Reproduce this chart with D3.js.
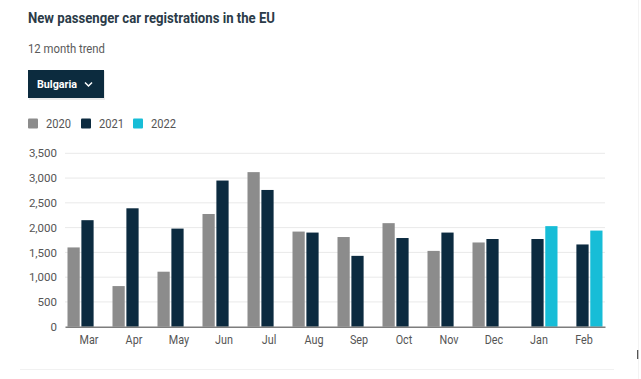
<!DOCTYPE html>
<html><head><meta charset="utf-8">
<script src="https://cdn.jsdelivr.net/npm/d3@7"></script>
<style>
html,body{margin:0;padding:0;background:#fff;}
svg{display:block;font-family:Roboto, "Noto Sans", sans-serif;}
</style></head>
<body>
<svg id="chart" width="641" height="379"></svg>
<script>
const months = ["Mar","Apr","May","Jun","Jul","Aug","Sep","Oct","Nov","Dec","Jan","Feb"];
const seriesNames = ["2020","2021","2022"];
const v2020 = [1600, 820, 1110, 2275, 3120, 1920, 1810, 2090, 1530, 1700, null, null];
const v2021 = [2150, 2390, 1980, 2950, 2760, 1900, 1430, 1790, 1900, 1770, 1770, 1660];
const v2022 = [null, null, null, null, null, null, null, null, null, null, 2030, 1940];
const yTicks = [0, 500, 1000, 1500, 2000, 2500, 3000, 3500];
const colors = {"2020":"#8c8c8c","2021":"#0c2b40","2022":"#17bdd7"};

const svg = d3.select("#chart");

// faint card edges
svg.append("line").attr("x1",20).attr("x2",614).attr("y1",369.5).attr("y2",369.5).attr("stroke","#f1f1f1");
svg.append("line").attr("x1",638.5).attr("x2",638.5).attr("y1",0).attr("y2",379).attr("stroke","#f3f3f3");
svg.append("rect").attr("x",637).attr("y",350).attr("width",1.3).attr("height",9).attr("fill","#555");

// title etc
svg.append("text").attr("x",28).attr("y",23).attr("font-size",14.5).attr("font-weight",700)
  .attr("fill","#2b3b48").attr("textLength",247).attr("lengthAdjust","spacingAndGlyphs")
  .text("New passenger car registrations in the EU");
svg.append("text").attr("x",28).attr("y",53).attr("font-size",12).attr("fill","#5a5a5a")
  .attr("textLength",77).attr("lengthAdjust","spacingAndGlyphs").text("12 month trend");

// dropdown button
svg.append("rect").attr("x",29).attr("y",71).attr("width",76).attr("height",29).attr("fill","#000").attr("opacity",0.08);
svg.append("rect").attr("x",28).attr("y",70).attr("width",76).attr("height",28).attr("fill","#0c2b3e");
svg.append("text").attr("x",37).attr("y",88).attr("font-size",11).attr("font-weight",700).attr("fill","#fff")
  .attr("textLength",40).attr("lengthAdjust","spacingAndGlyphs").text("Bulgaria");
svg.append("path").attr("d","M85,82.5 L88.5,86 L92,82.5").attr("fill","none").attr("stroke","#fff").attr("stroke-width",1.5);

// legend
const legX = [28, 81, 133];
seriesNames.forEach((s,i)=>{
  svg.append("rect").attr("x",legX[i]).attr("y",118.5).attr("width",10).attr("height",10).attr("rx",1).attr("fill",colors[s]);
  svg.append("text").attr("x",legX[i]+18).attr("y",128).attr("font-size",12).attr("fill","#555")
    .attr("textLength",25).attr("lengthAdjust","spacingAndGlyphs").text(s);
});

// scales
const x0 = d3.scaleBand().domain(months).range([65,605]).padding(0);
const x1 = d3.scaleBand().domain(seriesNames).range([2.5, x0.bandwidth()-2.5]).paddingInner(0.12).paddingOuter(0);
const y = d3.scaleLinear().domain([0,3500]).range([326.7,153.3]);

// gridlines
svg.append("g").selectAll("line").data(yTicks.filter(d=>d>0)).join("line")
  .attr("x1",65).attr("x2",605).attr("y1",d=>y(d)).attr("y2",d=>y(d))
  .attr("stroke","#e9e9e9").attr("stroke-width",1);

// y axis labels
const yAxis = d3.axisLeft(y).tickValues(yTicks).tickSize(0).tickPadding(0).tickFormat(d3.format(","));
const gy = svg.append("g").attr("transform","translate(57,0)").call(yAxis);
gy.select(".domain").remove();
gy.selectAll("text").attr("font-size",11.5).attr("fill","#555").attr("font-family","Roboto, sans-serif");

// bars
const rows = months.map((m,i)=>({month:m, vals:[
  {s:"2020", v:v2020[i]},{s:"2021", v:v2021[i]},{s:"2022", v:v2022[i]}]}));
const groups = svg.append("g").selectAll("g").data(rows).join("g")
  .attr("transform",d=>`translate(${x0(d.month)},0)`);
groups.selectAll("rect").data(d=>d.vals.filter(e=>e.v!=null)).join("rect")
  .attr("x",d=>x1(d.s)).attr("width",x1.bandwidth())
  .attr("y",d=>y(d.v)).attr("height",d=>y(0)-y(d.v))
  .attr("fill",d=>colors[d.s]);

// x axis
const xAxis = d3.axisBottom(x0).tickSize(0).tickPadding(9);
const gx = svg.append("g").attr("transform",`translate(0,${y(0)})`).call(xAxis);
gx.select(".domain").attr("stroke","#7d7d7d").attr("stroke-width",1.5);
gx.selectAll("text").attr("font-size",12).attr("fill","#555").attr("font-family","Roboto, sans-serif")
  .attr("transform","translate(1.5,0) scale(0.9,1)");
</script>
</body></html>
